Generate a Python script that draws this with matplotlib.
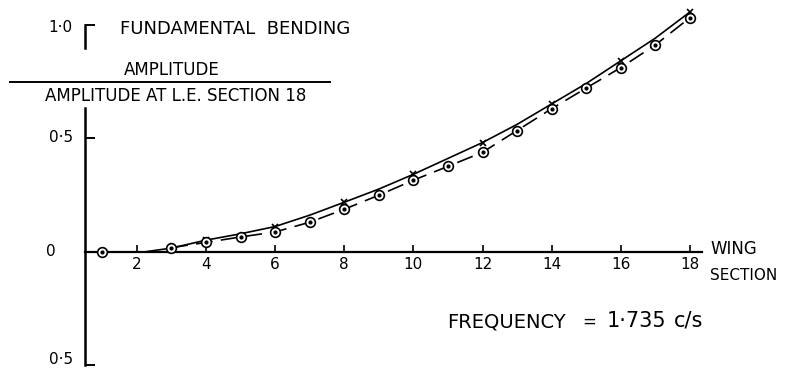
import matplotlib
matplotlib.use("Agg")
import matplotlib.pyplot as plt
from matplotlib.lines import Line2D

# Measured amplitudes (circles, dashed curve)
circle_sections = [1, 3, 4, 5, 6, 7, 8, 9, 10, 11, 12, 13, 14, 15, 16, 17, 18]
circle_amps = [0.0, 0.017, 0.04, 0.064, 0.086, 0.129, 0.186, 0.248, 0.314,
               0.375, 0.437, 0.533, 0.629, 0.72, 0.81, 0.91, 1.03]

# Calculated amplitudes (crosses, solid curve)
cross_sections = [4, 6, 8, 10, 12, 14, 16, 18]
cross_amps = [0.05, 0.11, 0.217, 0.34, 0.48, 0.65, 0.84, 1.055]

# Solid curve
curve_sections = [2.3, 3, 4, 5, 6, 7, 8, 9, 10, 11, 12, 13, 14, 15, 16, 17, 18]
curve_amps = [0.0, 0.015, 0.05, 0.078, 0.11, 0.16, 0.217, 0.275, 0.34, 0.41,
              0.48, 0.56, 0.65, 0.74, 0.84, 0.94, 1.055]

xticks = [2, 4, 6, 8, 10, 12, 14, 16, 18]
yticks = [1.0, 0.5, 0.0, -0.5]
ytick_labels = ["1·0", "0·5", "0", "0·5"]

W, H = 787, 378
fig = plt.figure(figsize=(W / 100, H / 100), dpi=100)
ax = fig.add_axes([85 / W, 1 - 365 / H, (702 - 85) / W, (365 - 24.5) / H])
ax.set_xlim(0.5, 18.35)
ax.set_ylim(-0.5, 1.0)

for s in ["top", "right", "left"]:
    ax.spines[s].set_visible(False)
ax.spines["bottom"].set_position(("data", 0))
ax.spines["bottom"].set_linewidth(1.6)

# y axis drawn in two pieces, broken where the axis title crosses it
ax.axvline(0.5, ymin=0.0, ymax=(0.632 + 0.5) / 1.5, color="black", lw=1.8,
           clip_on=False)
ax.axvline(0.5, ymin=(0.896 + 0.5) / 1.5, ymax=1.0, color="black", lw=1.8,
           clip_on=False)

ax.set_xticks(xticks)
ax.set_xticklabels([str(t) for t in xticks])
ax.tick_params(axis="x", direction="in", length=5, width=1.2, labelsize=11, pad=4)
ax.set_yticks([1.0, 0.5, -0.5])
ax.set_yticklabels([])
ax.tick_params(axis="y", direction="in", length=7, width=1.4)

# solid curve with crosses
ax.plot(curve_sections, curve_amps, color="black", lw=1.2, clip_on=False)
ax.plot(cross_sections, cross_amps, ls="none", marker="x", ms=5, mew=1.2,
        color="black", clip_on=False)

# dashed curve with circles
ax.plot(circle_sections[1:], circle_amps[1:], color="black", lw=1.2,
        dashes=(10, 5), clip_on=False)
ax.plot(circle_sections, circle_amps, ls="none", marker="o", ms=7, mew=1.2,
        mfc="white", mec="black", clip_on=False, zorder=4)
ax.plot(circle_sections, circle_amps, ls="none", marker="o", ms=2,
        color="black", clip_on=False, zorder=5)


def ftext(x, y, s, **kw):
    fig.text(x / W, 1 - y / H, s, color="black", **kw)


# y labels, placed by hand like the drawing
ftext(72, 28, ytick_labels[0], ha="right", va="center", fontsize=11)
ftext(73, 138, ytick_labels[1], ha="right", va="center", fontsize=11)
ftext(51, 251, ytick_labels[2], ha="center", va="center", fontsize=11)
ftext(73, 360, ytick_labels[3], ha="right", va="center", fontsize=11)

ftext(120, 29, "FUNDAMENTAL  BENDING", ha="left", va="center", fontsize=13)
ftext(172, 70, "AMPLITUDE", ha="center", va="center", fontsize=12)
fig.add_artist(Line2D([10 / W, 330 / W], [1 - 82 / H, 1 - 82 / H],
                      color="black", lw=1.4))
ftext(176, 96, "AMPLITUDE AT L.E. SECTION 18", ha="center", va="center",
      fontsize=12)
ftext(710, 249, "WING", ha="left", va="center", fontsize=12)
ftext(710, 275, "SECTION", ha="left", va="center", fontsize=11)
ftext(447, 322, "FREQUENCY", ha="left", va="center", fontsize=14)
ftext(589, 322, "=", ha="center", va="center", fontsize=12)
ftext(607, 321, "1·735", ha="left", va="center", fontsize=15)
ftext(674, 321, "c/s", ha="left", va="center", fontsize=15)

fig.savefig("out.png", dpi=100, facecolor="white")
